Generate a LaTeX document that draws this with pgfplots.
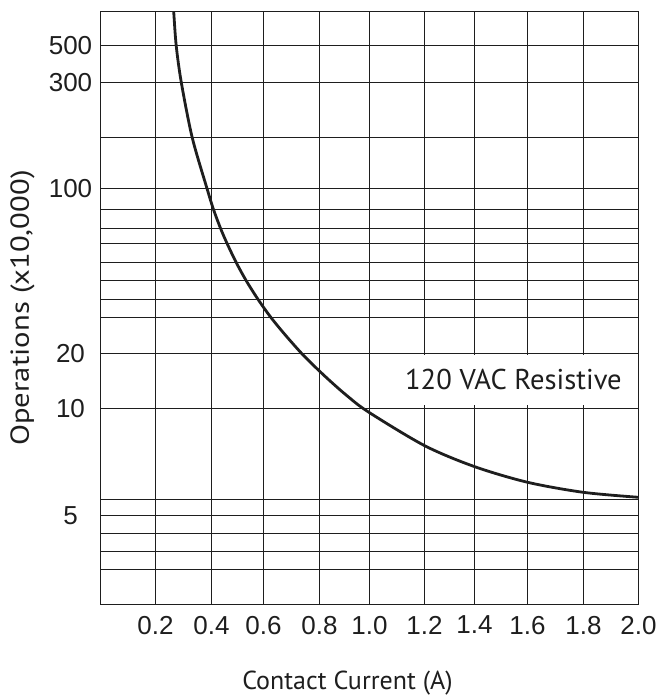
\documentclass[border=0pt]{standalone}
\usepackage{fontspec}
\setmainfont{Liberation Sans}
\newfontfamily\dinfont{PT Sans}
\newfontfamily\dinwide{PT Sans}[FakeStretch=1.18]
\usepackage{pgfplots}
\pgfplotsset{compat=1.18}
\definecolor{ink}{HTML}{1E1E1E}
\begin{document}
\begin{tikzpicture}
\useasboundingbox (-100.5pt,-91.5pt) rectangle (557.5pt,604.5pt);
\begin{axis}[
  scale only axis, width=538pt, height=593pt,
  xmin=0, xmax=2, ymode=log, ymin=1.2855, ymax=637.6,
  xtick={0.2045,0.4126,0.6059,0.8141,1.0,1.2045,1.3903,1.5874,1.7955,2.0},
  xticklabels={0.2,0.4,0.6,0.8,1.0,1.2,1.4,1.6,1.8,2.0},
  ytick={1.854,2.239,2.703,3.264,3.857,10,17.78,25.93,31.30,38.17,46.09,56.23,65.79,80.27,100,170.5,303.3,446.7},
  yticklabels={{},{},{},5,{},10,20,{},{},{},{},{},{},{},100,{},300,500},
  grid=major, major grid style={ink, line width=1.4pt},
  axis line style={ink, line width=1.4pt},
  major tick length=0pt, minor tick num=0, yminorticks=false, xminorticks=false,
  tick label style={font=\fontsize{26}{30}\selectfont, text=ink},
  xticklabel style={yshift=-8pt},
  yticklabel style={anchor=center, xshift=-30pt},
  clip mode=individual,
]
\fill[white] (axis cs:1.0037,17.51) rectangle (axis cs:1.9944,10.32);
\node[font=\dinfont\fontsize{28.6}{32}\selectfont, text=ink, anchor=base] at (axis cs:1.535,12.136) {120 VAC Resistive};
\addplot[ink, line width=2.8pt, smooth, tension=0.5] coordinates {
(0.2691,719.3) (0.2721,637.6) (0.2814,446.7) (0.3004,303.3) (0.3409,170.5)
(0.3959,100) (0.4201,80.27) (0.4465,65.79) (0.4706,56.23) (0.5045,46.09)
(0.5413,38.17) (0.5859,31.30) (0.6335,25.93) (0.6870,21.58) (0.7480,17.78)
(0.7941,15.61) (0.8494,13.48) (0.9130,11.52) (0.9944,9.670)
(1.2052,6.775) (1.3911,5.439) (1.5881,4.618) (1.7948,4.159) (2.0,3.948)
};
\node[font=\dinfont\fontsize{26}{30}\selectfont, text=ink, anchor=base] at ([yshift=-85pt]rel axis cs:0.459,0) {Contact Current (A)};
\node[font=\dinwide\fontsize{26}{30}\selectfont, text=ink, rotate=90, anchor=center] at ([xshift=-78pt]rel axis cs:0,0.5) {Operations (x10,000)};
\end{axis}
\end{tikzpicture}
\end{document}
